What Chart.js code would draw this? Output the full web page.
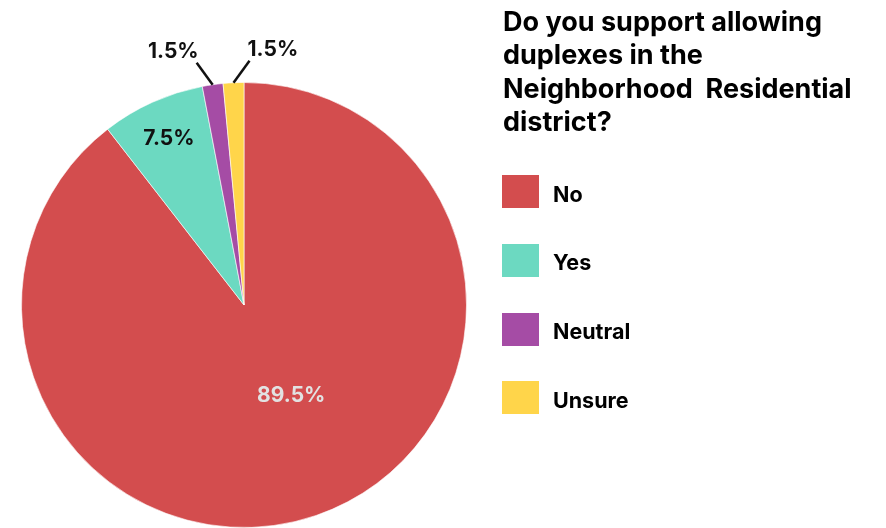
<!DOCTYPE html>
<html>
<head>
<meta charset="utf-8">
<script src="https://cdn.jsdelivr.net/npm/chart.js@4.4.1/dist/chart.umd.min.js"></script>
<style>
	html, body { margin: 0; padding: 0; background: #fff; overflow: hidden; }
	#wrap { position: relative; width: 886px; height: 528px; font-family: Inter, "Noto Sans", sans-serif; }
	#pie { position: absolute; left: 0; top: 0; }
	#question {
		position: absolute; left: 503px; top: 5px; margin: 0;
		font-size: 27px; line-height: 33.4px; font-weight: 700; color: #000;
		white-space: pre;
	}
	#legend { position: absolute; left: 502px; top: 175px; margin: 0; padding: 0; list-style: none; }
	#legend li { display: flex; align-items: center; height: 33px; margin-bottom: 35.8px; }
	#legend .box { width: 37px; height: 33px; margin-right: 14px; }
	#legend .txt { font-size: 21.5px; font-weight: 700; color: #000; position: relative; top: 2px; }
</style>
</head>
<body>
<div id="wrap">
	<canvas id="pie" width="886" height="528"></canvas>
	<h2 id="question">Do you support allowing
duplexes in the
Neighborhood  Residential
district?</h2>
	<ul id="legend"></ul>
</div>
<script>
const labels = ['No', 'Yes', 'Neutral', 'Unsure'];
const shares = [89.5, 7.5, 1.5, 1.5];
const colors = ['#D34D4E', '#6CD9C1', '#A54CA5', '#FFD54A'];

// percentage labels: inside the slice for big ones, leader line for thin ones
const sliceLabels = {
	id: 'sliceLabels',
	afterDatasetsDraw(chart) {
		const ctx = chart.ctx;
		const arcs = chart.getDatasetMeta(0).data;
		let small = 0;
		ctx.save();
		ctx.font = '700 21px Inter, "Noto Sans", sans-serif';
		arcs.forEach((arc, i) => {
			const p = arc.getProps(['x', 'y', 'startAngle', 'endAngle', 'outerRadius'], true);
			const mid = (p.startAngle + p.endAngle) / 2;
			const txt = shares[i] + '%';
			if (shares[i] > 5) {
				const big = shares[i] > 50;
				// the big slice's label sits a bit further round, toward the right
				const a = big ? mid - 0.15 : mid;
				const f = big ? 0.46 : 0.82;
				const x = p.x + Math.cos(a) * p.outerRadius * f;
				const y = p.y + Math.sin(a) * p.outerRadius * f;
				ctx.fillStyle = big ? '#E2E2E2' : '#111';
				ctx.textAlign = 'center';
				ctx.textBaseline = 'middle';
				ctx.fillText(txt, x, y);
			} else {
				const sx = p.x + Math.cos(mid) * p.outerRadius;
				const sy = p.y + Math.sin(mid) * p.outerRadius;
				const side = small % 2 === 0 ? -1 : 1;
				const ex = sx + side * 16;
				const ey = sy - 22;
				ctx.strokeStyle = '#111';
				ctx.lineWidth = 2.5;
				ctx.beginPath();
				ctx.moveTo(sx, sy);
				ctx.lineTo(ex, ey);
				ctx.stroke();
				ctx.fillStyle = '#111';
				ctx.textAlign = side < 0 ? 'right' : 'left';
				ctx.textBaseline = 'alphabetic';
				ctx.fillText(txt, ex + (side < 0 ? 2 : -2), ey - 5);
				small++;
			}
		});
		ctx.restore();
	}
};

const chart = new Chart(document.getElementById('pie'), {
	type: 'pie',
	data: {
		labels: labels,
		datasets: [{
			data: shares,
			backgroundColor: colors,
			borderColor: 'rgba(255,255,255,0.6)',
			borderWidth: 1,
		}],
	},
	options: {
		responsive: false,
		animation: false,
		layout: {
			padding: { left: 20, right: 418, top: 82, bottom: -2 },
		},
		plugins: {
			legend: { display: false },
			tooltip: { enabled: false },
		},
	},
	plugins: [sliceLabels],
});

// legend list built from the chart's own items
const list = document.getElementById('legend');
chart.legend.legendItems.forEach(item => {
	const li = document.createElement('li');
	const box = document.createElement('span');
	box.className = 'box';
	box.style.background = item.fillStyle;
	const txt = document.createElement('span');
	txt.className = 'txt';
	txt.textContent = item.text;
	li.appendChild(box);
	li.appendChild(txt);
	list.appendChild(li);
});
</script>
</body>
</html>
